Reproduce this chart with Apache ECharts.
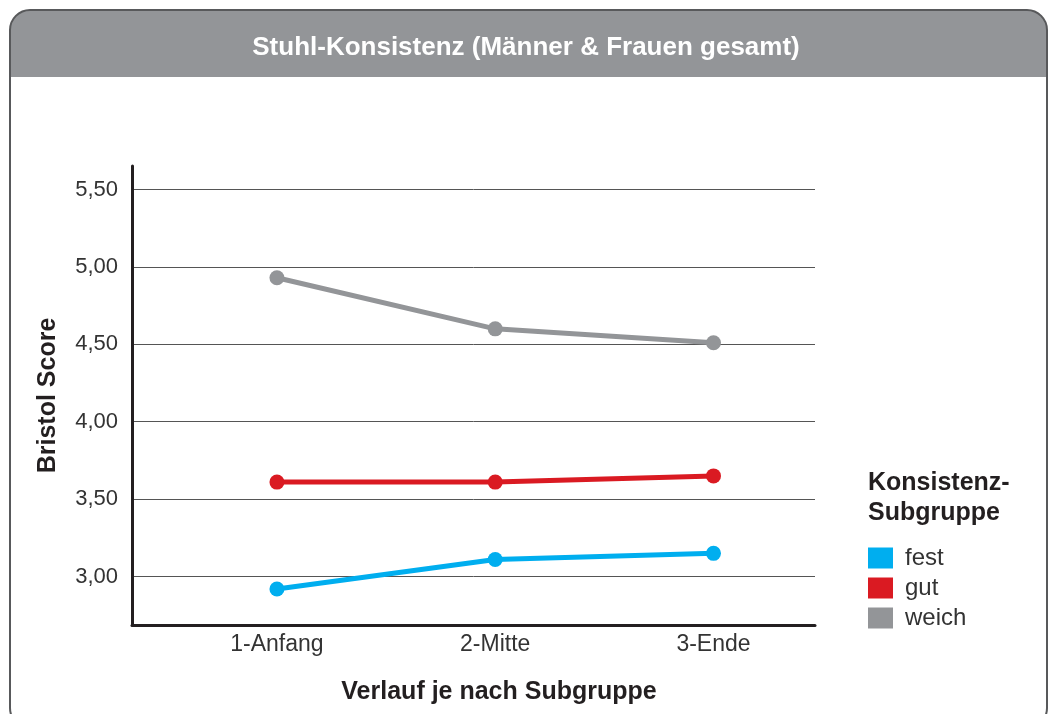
<!DOCTYPE html>
<html>
<head>
<meta charset="utf-8">
<script src="https://cdn.jsdelivr.net/npm/echarts@6/dist/echarts.min.js"></script>
<style>
html,body{margin:0;padding:0;background:#fff;}
#chart{width:1052px;height:714px;}
</style>
</head>
<body>
<div id="chart"></div>
<script>
const categories = ['1-Anfang', '2-Mitte', '3-Ende'];
const seriesNames = ['fest', 'gut', 'weich'];
const fest = [2.92, 3.11, 3.15];
const gut = [3.61, 3.61, 3.65];
const weich = [4.93, 4.60, 4.51];
const yTicks = [3.0, 3.5, 4.0, 4.5, 5.0, 5.5];
const xTicks = [1, 2, 3];
const colors = ['#00AEEF', '#DA1A22', '#939598'];

const FONT = "'Liberation Sans', Arial, Helvetica, sans-serif";
const values = [fest, gut, weich];

const chart = echarts.init(document.getElementById('chart'), null, {renderer: 'canvas'});
const option = {
  animation: false,
  backgroundColor: '#fff',
  textStyle: {fontFamily: FONT},
  graphic: [
    {type: 'rect', z: -10, shape: {x: 10, y: 10, width: 1037, height: 67, r: [20, 20, 0, 0]}, style: {fill: '#939598'}},
    {type: 'rect', z: -9, shape: {x: 10, y: 10, width: 1037, height: 718, r: 20}, style: {fill: 'none', stroke: '#58595b', lineWidth: 2}}
  ],
  title: [
    {text: 'Stuhl-Konsistenz (Männer & Frauen gesamt)', left: 'center', top: 30,
     textStyle: {color: '#fff', fontSize: 26, fontWeight: 'bold', fontFamily: FONT}},
    {text: 'Konsistenz-\nSubgruppe', left: 863, top: 463,
     textStyle: {color: '#231f20', fontSize: 25, fontWeight: 'bold', lineHeight: 30, fontFamily: FONT}}
  ],
  legend: {
    orient: 'vertical', left: 863, top: 541,
    icon: 'rect', itemWidth: 25, itemHeight: 21, itemGap: 6,
    data: seriesNames,
    textStyle: {color: '#333', fontSize: 24, fontFamily: FONT, padding: [0, 0, 0, 7]}
  },
  grid: {left: 132, right: 237, top: 166, bottom: 89, containLabel: false},
  xAxis: {
    type: 'value', min: 0.336, max: 3.465,
    name: 'Verlauf je nach Subgruppe', nameLocation: 'middle', nameGap: 55,
    nameTextStyle: {color: '#231f20', fontSize: 25, fontWeight: 'bold', padding: [0, 0, 0, 51], fontFamily: FONT},
    axisLine: {show: true, lineStyle: {color: '#231f20', width: 3}},
    axisTick: {show: false, customValues: xTicks},
    splitLine: {show: false},
    axisLabel: {customValues: xTicks, color: '#333', fontSize: 23, margin: 8, fontFamily: FONT,
      formatter: v => categories[Math.round(v) - 1] || ''}
  },
  yAxis: {
    type: 'value', min: 2.687, max: 5.652,
    name: 'Bristol Score', nameLocation: 'middle', nameRotate: 90, nameGap: 71,
    nameTextStyle: {color: '#231f20', fontSize: 25, fontWeight: 'bold', fontFamily: FONT},
    axisLine: {show: true, lineStyle: {color: '#231f20', width: 3}},
    axisTick: {show: false, customValues: yTicks},
    splitLine: {show: true, lineStyle: {color: '#555', width: 1}},
    axisLabel: {customValues: yTicks, color: '#333', fontSize: 22, margin: 14, fontFamily: FONT,
      formatter: v => v.toFixed(2).replace('.', ',')}
  },
  series: seriesNames.map((n, k) => ({
    name: n, type: 'line',
    data: categories.map((c, i) => [i + 1, values[k][i]]),
    symbol: 'circle', symbolSize: 15,
    lineStyle: {color: colors[k], width: 5},
    itemStyle: {color: colors[k]},
    z: 3
  }))
};
chart.setOption(option);
</script>
</body>
</html>
